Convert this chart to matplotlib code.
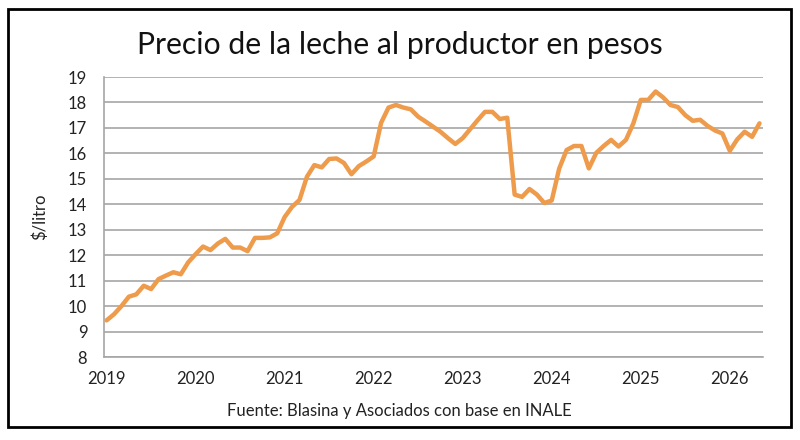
import matplotlib
matplotlib.use("Agg")
import matplotlib.pyplot as plt
from matplotlib.patches import Rectangle

# precio mensual, ene-2019 en adelante ($/litro)
precio = [9.44, 9.68, 10.0, 10.37, 10.46, 10.8, 10.67, 11.06, 11.2, 11.33, 11.25, 11.72,
          12.04, 12.34, 12.2, 12.46, 12.64, 12.3, 12.3, 12.16, 12.68, 12.68, 12.7, 12.86,
          13.5, 13.9, 14.17, 15.08, 15.54, 15.45, 15.78, 15.8, 15.62, 15.18, 15.5, 15.68,
          15.88, 17.2, 17.8, 17.9, 17.8, 17.73, 17.44, 17.25, 17.05, 16.85, 16.6, 16.37,
          16.6, 16.95, 17.3, 17.63, 17.63, 17.35, 17.4, 14.38, 14.29, 14.6, 14.38, 14.05,
          14.15, 15.4, 16.13, 16.29, 16.29, 15.41, 16.02, 16.29, 16.53, 16.27, 16.53, 17.18,
          18.1, 18.1, 18.43, 18.2, 17.9, 17.82, 17.5, 17.28, 17.32, 17.08, 16.9, 16.78,
          16.1, 16.55, 16.85, 16.65, 17.18]
anios = ["2019", "2020", "2021", "2022", "2023", "2024", "2025", "2026"]
y_ticks = list(range(8, 20))

plt.rcParams['font.family'] = ['Lato', 'DejaVu Sans']

fig = plt.figure(figsize=(8, 4.4), dpi=100)
ax = fig.add_axes([0.13, 0.1886, 0.824, 0.6364])

meses = list(range(len(precio)))
ax.plot(meses, precio, color='#EE9B4C', lw=3.2, solid_joinstyle='round',
        solid_capstyle='round', zorder=3)

ax.set_ylim(8, 19)
ax.set_yticks(y_ticks)
ax.set_xlim(-0.35, 88.5)
ax.set_xticks([12 * k for k in range(len(anios))])
ax.set_xticklabels(anios)
ax.tick_params(length=0, labelsize=12, colors='#222222')
ax.tick_params(axis='y', pad=12)
ax.tick_params(axis='x', pad=10)

ax.grid(axis='y', color='#A6A6A6', lw=1.2)
ax.set_axisbelow(True)
for s in ['top', 'right']:
    ax.spines[s].set_visible(False)
ax.spines['left'].set_color('#A6A6A6')
ax.spines['bottom'].set_color('#A6A6A6')
ax.spines['left'].set_linewidth(1.2)
ax.spines['bottom'].set_linewidth(1.2)

ax.set_ylabel('$/litro', fontsize=12, labelpad=14, color='#222222')

fig.text(0.5, 0.898, 'Precio de la leche al productor en pesos', ha='center',
         va='center', fontsize=21.7, color='#111111')
fig.text(0.499, 0.066, 'Fuente: Blasina y Asociados con base en INALE', ha='center',
         va='center', fontsize=12, color='#222222')

# marco negro alrededor
fig.patches.append(Rectangle((0.01, 0.0295), 0.979, 0.95, transform=fig.transFigure,
                             fill=False, edgecolor='black', lw=2))

fig.savefig('out.png', dpi=100)
